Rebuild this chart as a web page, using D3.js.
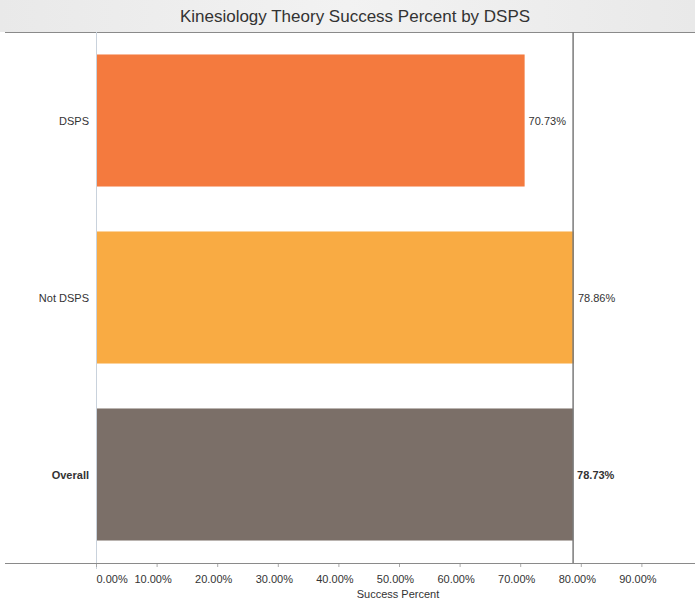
<!DOCTYPE html>
<html>
<head>
<meta charset="utf-8">
<script src="https://cdn.jsdelivr.net/npm/d3@7"></script>
<style>
  body { margin: 0; background: #fff; font-family: "Liberation Sans", Arial, sans-serif; }
  svg text { fill: #333; }
</style>
</head>
<body>
<div id="chart-area"></div>
<script>
var categories = ['DSPS', 'Not DSPS', 'Overall'];
var successPct = [70.73, 78.86, 78.73];
var barColors = ['#f47a3e', '#f9ab43', '#7b6f68'];
var tickValues = [0, 10, 20, 30, 40, 50, 60, 70, 80, 90];
var overallRef = 78.73;

var width = 695, height = 603;
var plot = { top: 32, bottom: 563, left: 96 };

var svg = d3.select('#chart-area').append('svg')
    .attr('width', width)
    .attr('height', height);

// title band
var grad = svg.append('defs').append('linearGradient')
    .attr('id', 'titleBg');
grad.append('stop').attr('offset', '0%').attr('stop-color', '#e9e9e9');
grad.append('stop').attr('offset', '50%').attr('stop-color', '#f2f2f2');
grad.append('stop').attr('offset', '100%').attr('stop-color', '#e9e9e9');

svg.append('rect')
    .attr('x', 0).attr('y', 0)
    .attr('width', width).attr('height', plot.top)
    .attr('fill', 'url(#titleBg)');

svg.append('text')
    .attr('x', 355)
    .attr('y', 22)
    .attr('text-anchor', 'middle')
    .attr('font-size', '17px')
    .text('Kinesiology Theory Success Percent by DSPS');

svg.append('line')
    .attr('x1', 5).attr('x2', width)
    .attr('y1', plot.top + 0.5).attr('y2', plot.top + 0.5)
    .attr('stroke', '#8a8a8a');

//x scale
var x = d3.scaleLinear()
    .domain([0, 100])
    .range([plot.left, plot.left + 606]);

//y scale
var y = d3.scaleBand()
    .domain(categories)
    .range([plot.top, plot.bottom])
    .paddingInner(0.254)
    .paddingOuter(0.127);

// zero line
svg.append('line')
    .attr('x1', x(0) + 0.5).attr('x2', x(0) + 0.5)
    .attr('y1', plot.top).attr('y2', plot.bottom + 6)
    .attr('stroke', '#c9d2dc');

// bars
svg.selectAll('rect.bar')
    .data(categories)
  .enter().append('rect')
    .attr('class', 'bar')
    .attr('x', x(0) + 1)
    .attr('y', function(d){ return y(d); })
    .attr('width', function(d, i){ return x(successPct[i]) - x(0) - 1; })
    .attr('height', y.bandwidth())
    .attr('fill', function(d, i){ return barColors[i]; });

// reference line at overall
svg.append('line')
    .attr('x1', x(overallRef)).attr('x2', x(overallRef))
    .attr('y1', plot.top).attr('y2', plot.bottom)
    .attr('stroke', '#7a7a7a')
    .attr('stroke-width', 1.5);

// value labels
svg.selectAll('text.val')
    .data(categories)
  .enter().append('text')
    .attr('class', 'val')
    .attr('x', function(d, i){ return x(successPct[i]) + 4; })
    .attr('y', function(d){ return y(d) + y.bandwidth() / 2 + 4; })
    .attr('font-size', '11px')
    .attr('font-weight', function(d){ return d == 'Overall' ? 'bold' : 'normal'; })
    .text(function(d, i){ return d3.format('.2f')(successPct[i]) + '%'; });

// category labels
svg.selectAll('text.cat')
    .data(categories)
  .enter().append('text')
    .attr('class', 'cat')
    .attr('x', 89)
    .attr('y', function(d){ return y(d) + y.bandwidth() / 2 + 4; })
    .attr('text-anchor', 'end')
    .attr('font-size', '11px')
    .attr('font-weight', function(d){ return d == 'Overall' ? 'bold' : 'normal'; })
    .text(function(d){ return d; });

// x axis
var xAxis = d3.axisBottom(x)
    .tickValues(tickValues)
    .tickSize(4)
    .tickFormat(function(d){ return d3.format('.2f')(d) + '%'; });

var gx = svg.append('g')
    .attr('class', 'x-axis')
    .attr('transform', 'translate(0,' + plot.bottom + ')')
    .call(xAxis);

gx.select('.domain').remove();
gx.selectAll('.tick line').attr('stroke', '#aaa');
gx.selectAll('.tick text')
    .attr('font-size', '11px')
    .attr('font-family', '"Liberation Sans", Arial, sans-serif')
    .attr('fill', '#333')
    .attr('dy', '1.2em')
    .attr('text-anchor', function(d){ return d == 0 ? 'start' : 'middle'; })
    .attr('dx', function(d){ return d == 0 ? 0 : -4; });

svg.append('line')
    .attr('x1', 5).attr('x2', width)
    .attr('y1', plot.bottom + 0.5).attr('y2', plot.bottom + 0.5)
    .attr('stroke', '#8a8a8a');

//x label
svg.append('text')
    .attr('x', 398)
    .attr('y', 598)
    .attr('text-anchor', 'middle')
    .attr('font-size', '11px')
    .text('Success Percent');
</script>
</body>
</html>
